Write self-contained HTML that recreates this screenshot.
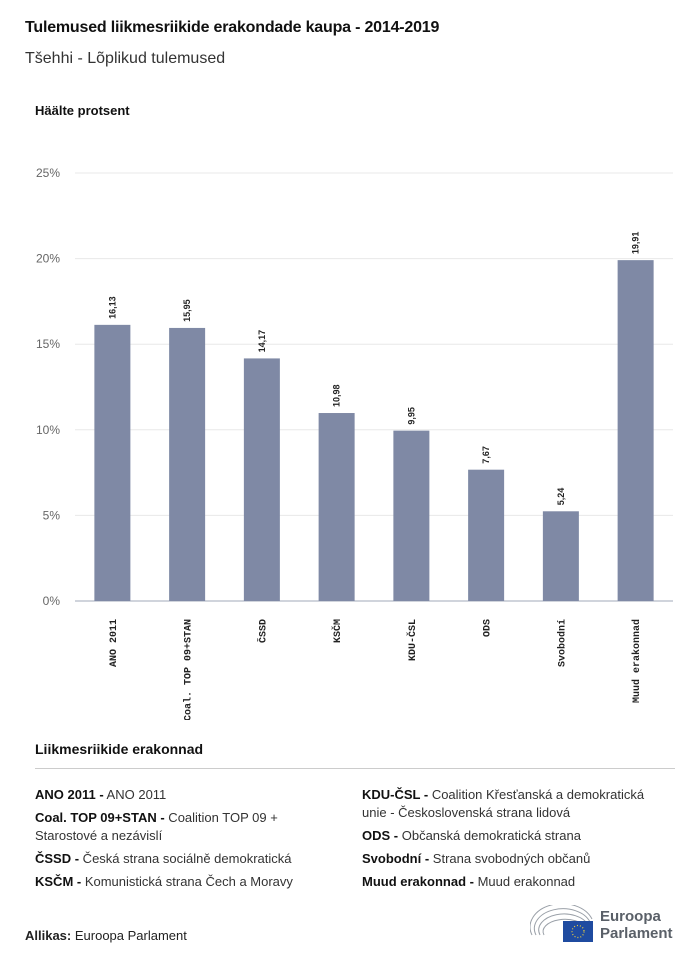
<!DOCTYPE html>
<html><head><meta charset="utf-8"><style>
body{margin:0;width:700px;height:962px;background:#fff;font-family:"Liberation Sans","DejaVu Sans",sans-serif;color:#222;position:relative;overflow:hidden}
.t{position:absolute;white-space:nowrap}
.leg{font-size:13px;line-height:18px;color:#333}
.leg b{color:#111}
</style></head><body>
<div class="t" style="left:25px;top:19px;font-size:16px;font-weight:bold;color:#111;letter-spacing:-0.2px">Tulemused liikmesriikide erakondade kaupa - 2014-2019</div>
<div class="t" style="left:25px;top:50px;font-size:16px;color:#333">Tšehhi - Lõplikud tulemused</div>
<div class="t" style="left:35px;top:103px;font-size:13px;font-weight:bold;color:#111">Häälte protsent</div>
<svg id="chart" width="700" height="720" style="position:absolute;left:0;top:0"></svg>
<div class="t" style="left:35px;top:741px;font-size:14px;font-weight:bold;color:#111">Liikmesriikide erakonnad</div>
<div style="position:absolute;left:35px;top:768px;width:640px;height:1px;background:#ccc"></div>
<div class="leg" style="position:absolute;left:35px;top:786px;width:300px">
<div style="margin-bottom:5px"><b>ANO 2011 -</b> ANO 2011</div>
<div style="margin-bottom:5px"><b>Coal. TOP 09+STAN -</b> Coalition TOP 09 + Starostové a nezávislí</div>
<div style="margin-bottom:5px"><b>ČSSD -</b> Česká strana sociálně demokratická</div>
<div><b>KSČM -</b> Komunistická strana Čech a Moravy</div>
</div>
<div class="leg" style="position:absolute;left:362px;top:786px;width:310px">
<div style="margin-bottom:5px"><b>KDU-ČSL -</b> Coalition Křesťanská a demokratická unie - Československá strana lidová</div>
<div style="margin-bottom:5px"><b>ODS -</b> Občanská demokratická strana</div>
<div style="margin-bottom:5px"><b>Svobodní -</b> Strana svobodných občanů</div>
<div><b>Muud erakonnad -</b> Muud erakonnad</div>
</div>
<div class="t" style="left:25px;top:928px;font-size:13px;color:#222"><b>Allikas:</b> Euroopa Parlament</div>
<div style="position:absolute;left:530px;top:905px;width:150px;height:40px">
<svg width="65" height="40" style="position:absolute;left:0;top:0"><g fill="none" stroke="#9aa0a8" stroke-width="1">
<path d="M2 30 A30 22 0 0 1 62 14"/><path d="M6 30 A26 18 0 0 1 60 17"/><path d="M10 30 A22 14 0 0 1 58 20"/><path d="M14 30 A18 10 0 0 1 56 23"/></g>
<rect x="33" y="16" width="30" height="21" fill="#1f4ba0"/><circle cx="48" cy="26.5" r="6" fill="none" stroke="#f2d23a" stroke-width="1.2" stroke-dasharray="1 2"/></svg>
<div class="t" style="left:70px;top:3px;font-size:15px;font-weight:bold;color:#5a6068;line-height:17px">Euroopa<br>Parlament</div>
</div>
<script>
const categories=["ANO 2011","Coal. TOP 09+STAN","ČSSD","KSČM","KDU-ČSL","ODS","Svobodní","Muud erakonnad"];
const values=[16.13,15.95,14.17,10.98,9.95,7.67,5.24,19.91];
const valueLabels=["16,13","15,95","14,17","10,98","9,95","7,67","5,24","19,91"];
const ticks=[0,5,10,15,20,25];
const NS="http://www.w3.org/2000/svg";
const svg=document.getElementById("chart");
const x0=75,x1=673,yb=601,yt=173,ymax=25;
const bw=(x1-x0)/categories.length;
function y(v){return yb-(v/ymax)*(yb-yt);}
function xc(i){return x0+bw*(i+0.5);}
function mk(tag,a){const e=document.createElementNS(NS,tag);for(const k in a)e.setAttribute(k,a[k]);svg.appendChild(e);return e;}
ticks.forEach(t=>{
 const g=mk("line",{x1:x0,x2:x1,y1:y(t),y2:y(t),stroke:t===0?"#d0d4dc":"#e8e8e8","stroke-width":t===0?2:1});
 
 
 const l=mk("text",{x:60,y:y(t)+4,"text-anchor":"end","font-size":12,fill:"#666","font-family":"Liberation Sans, sans-serif"});
 l.textContent=t+"%";
 
 
});
values.forEach((v,i)=>{
 const r=mk("rect",{x:xc(i)-18,y:y(v),width:36,height:yb-y(v),fill:"#7f89a5"});
 
 
 const vl=mk("text",{transform:`translate(${xc(i)+3},${y(v)-6}) rotate(-90)`,"font-size":9,"font-weight":"bold",fill:"#222","font-family":"Liberation Sans, sans-serif"});
 vl.textContent=valueLabels[i];
 
 
 const cl=mk("text",{transform:`translate(${xc(i)+3.5},${yb+18}) rotate(-90)`,"text-anchor":"end","font-size":10,"font-weight":"bold",fill:"#222","font-family":"Liberation Mono, monospace"});
 cl.textContent=categories[i];
 
 
});
</script>
</body></html>
